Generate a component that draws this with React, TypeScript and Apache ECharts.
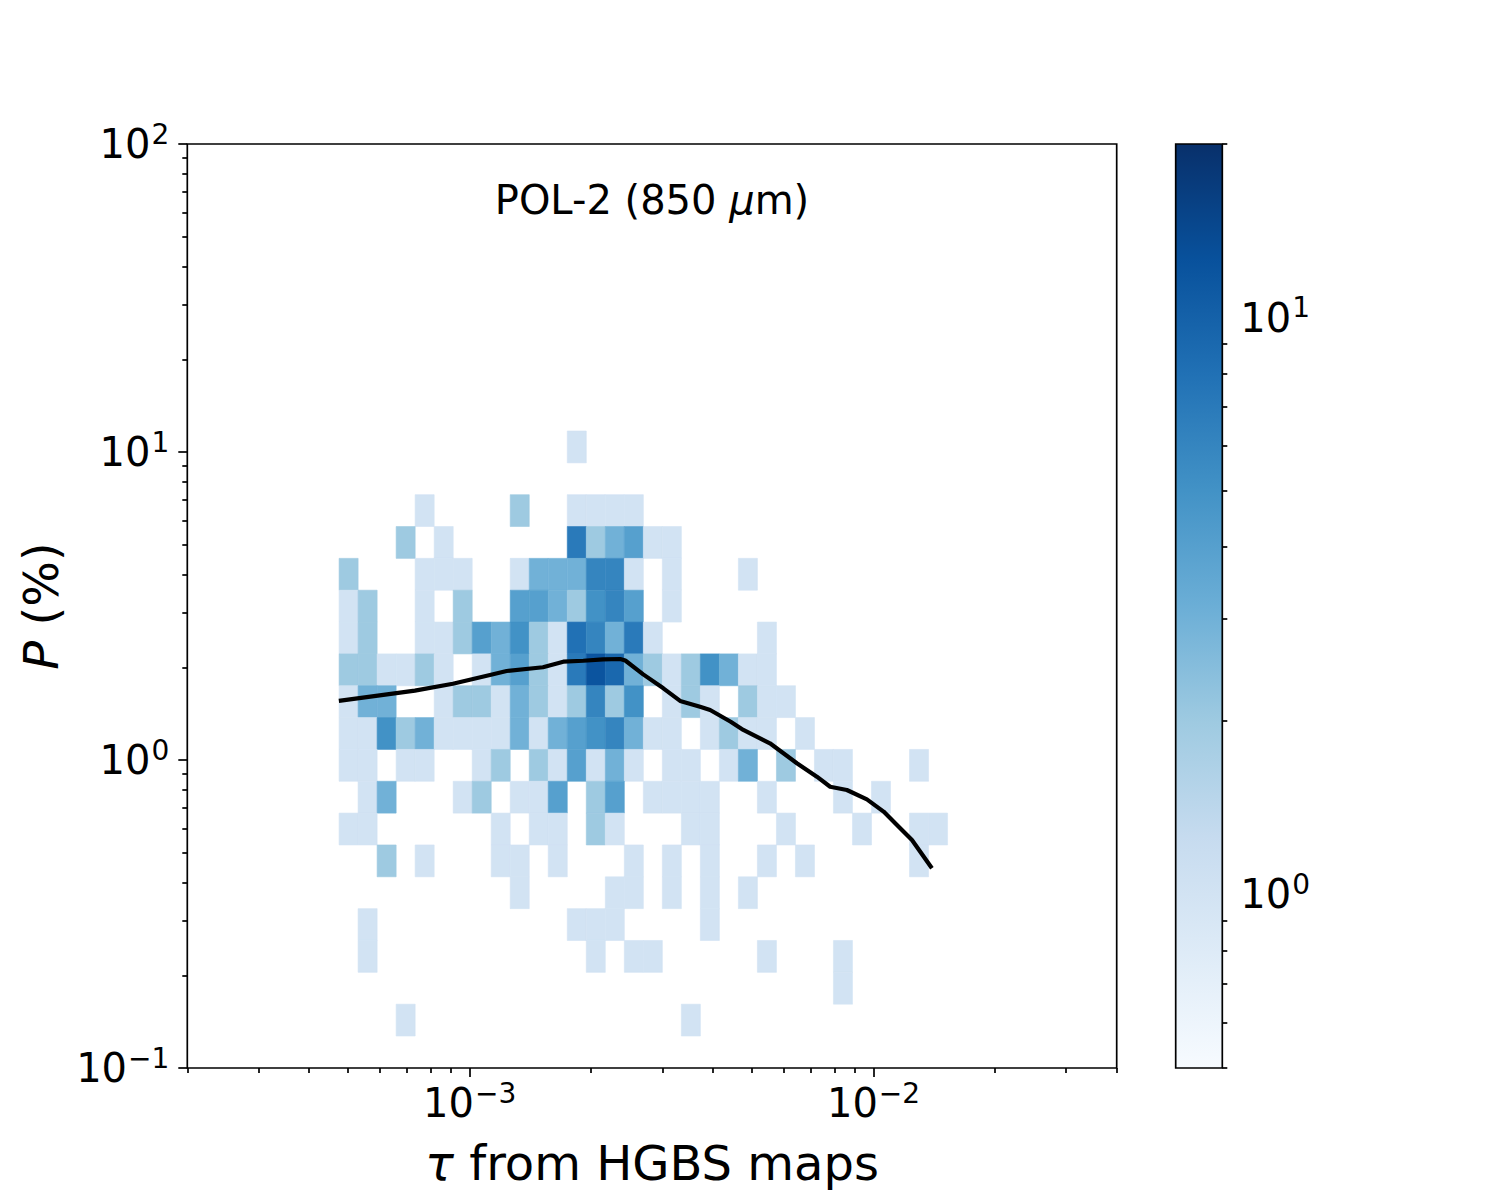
import React, { useEffect, useRef } from "react";
import * as echarts from "echarts";

const FONT = "DejaVu Sans";

// Histogram bin layout (log-spaced), in data units
const X_BIN_EDGE_MIN = 4.752e-4;
const X_BIN_EDGE_MAX = 1.525e-2;
const X_BIN_COUNT = 32;
const Y_BIN_EDGE_MIN = 0.127;
const Y_BIN_EDGE_MAX = 11.7;
const Y_BIN_COUNT = 19;

// Counts per bin: rows from the highest P bin (top) to the lowest, columns from lowest tau
const COUNTS_TOP_DOWN: number[][] = [
  [0,0,0,0,0,0,0,0,0,0,0,0,1,0,0,0,0,0,0,0,0,0,0,0,0,0,0,0,0,0,0,0],
  [0,0,0,0,0,0,0,0,0,0,0,0,0,0,0,0,0,0,0,0,0,0,0,0,0,0,0,0,0,0,0,0],
  [0,0,0,0,1,0,0,0,0,2,0,0,1,1,1,1,0,0,0,0,0,0,0,0,0,0,0,0,0,0,0,0],
  [0,0,0,2,0,1,0,0,0,0,0,0,7,2,3,4,1,1,0,0,0,0,0,0,0,0,0,0,0,0,0,0],
  [2,0,0,0,1,1,1,0,0,1,3,3,3,6,6,1,0,1,0,0,0,1,0,0,0,0,0,0,0,0,0,0],
  [1,2,0,0,1,0,2,0,0,4,4,3,2,5,6,4,0,1,0,0,0,0,0,0,0,0,0,0,0,0,0,0],
  [1,2,0,0,1,1,2,4,3,5,2,1,8,6,3,7,1,0,0,0,0,0,1,0,0,0,0,0,0,0,0,0],
  [2,2,1,1,2,1,0,1,3,4,2,1,7,12,9,3,2,1,2,5,3,1,1,0,0,0,0,0,0,0,0,0],
  [1,3,3,0,0,1,2,2,1,3,2,1,2,6,2,5,0,1,2,1,0,2,1,1,0,0,0,0,0,0,0,0],
  [1,1,5,2,3,1,1,1,1,3,1,3,4,5,6,3,1,1,0,1,2,1,1,0,1,0,0,0,0,0,0,0],
  [1,1,0,1,1,0,0,1,2,0,2,1,4,1,3,1,0,1,1,0,1,3,0,2,0,1,1,0,0,0,1,0],
  [0,1,3,0,0,0,1,2,0,1,1,4,0,2,4,0,1,1,1,1,0,0,1,0,0,0,1,0,1,0,0,0],
  [1,1,0,0,0,0,0,0,1,0,1,1,0,2,1,0,0,0,1,1,0,0,0,1,0,0,0,1,0,0,1,1],
  [0,0,2,0,1,0,0,0,1,1,0,1,0,0,0,1,0,1,0,1,0,0,1,0,1,0,0,0,0,0,1,0],
  [0,0,0,0,0,0,0,0,0,1,0,0,0,0,1,1,0,1,0,1,0,1,0,0,0,0,0,0,0,0,0,0],
  [0,1,0,0,0,0,0,0,0,0,0,0,1,1,1,0,0,0,0,1,0,0,0,0,0,0,0,0,0,0,0,0],
  [0,1,0,0,0,0,0,0,0,0,0,0,0,1,0,1,1,0,0,0,0,0,1,0,0,0,1,0,0,0,0,0],
  [0,0,0,0,0,0,0,0,0,0,0,0,0,0,0,0,0,0,0,0,0,0,0,0,0,0,1,0,0,0,0,0],
  [0,0,0,1,0,0,0,0,0,0,0,0,0,0,0,0,0,0,1,0,0,0,0,0,0,0,0,0,0,0,0,0],
];

// Running curve (black line)
const LINE_TAU = [
  4.745e-4, 7.32e-4, 9.09e-4, 1.123e-3, 1.235e-3, 1.519e-3, 1.706e-3, 1.912e-3,
  2.14e-3, 2.36e-3, 2.429e-3, 2.69e-3, 3.018e-3, 3.32e-3, 3.72e-3, 3.94e-3,
  4.43e-3, 4.76e-3, 5.54e-3, 6.46e-3, 7.24e-3, 7.81e-3, 8.59e-3, 9.63e-3,
  1.059e-2, 1.143e-2, 1.245e-2, 1.395e-2,
];
const LINE_P = [
  1.555, 1.679, 1.769, 1.888, 1.945, 2.0, 2.086, 2.1,
  2.123, 2.128, 2.104, 1.897, 1.709, 1.555, 1.49, 1.453,
  1.331, 1.252, 1.133, 0.976, 0.883, 0.819, 0.799, 0.745,
  0.68, 0.615, 0.55, 0.445,
];

// Axes
const X_MIN = 2e-4;
const X_MAX = 4e-2;
const Y_MIN = 0.1;
const Y_MAX = 100;
const X_MAJOR = [1e-3, 1e-2];
const Y_MAJOR = [0.1, 1, 10, 100];
const CBAR_MIN = 0.5;
const CBAR_MAX = 20;
const CBAR_MAJOR = [1, 10];
const MINOR_MULT = [2, 3, 4, 5, 6, 7, 8, 9];

const BLUES = ["#f7fbff", "#deebf7", "#c6dbef", "#9ecae1", "#6baed6", "#4292c6", "#2171b5", "#08519c", "#08306b"];

const TITLE = ["POL-2 (850 ", "μ", "m)"];
const X_NAME = ["τ", " from HGBS maps"];
const Y_NAME = ["P", " (%)"];

function logEdges(lo: number, hi: number, n: number): number[] {
  const a = Math.log10(lo);
  const b = Math.log10(hi);
  const out: number[] = [];
  for (let i = 0; i <= n; i++) out.push(Math.pow(10, a + ((b - a) * i) / n));
  return out;
}

function minorTicks(lo: number, hi: number): number[] {
  const out: number[] = [];
  for (let e = Math.floor(Math.log10(lo)); e <= Math.ceil(Math.log10(hi)); e++) {
    for (const m of MINOR_MULT) {
      const v = m * Math.pow(10, e);
      if (v >= lo * 0.9999 && v <= hi * 1.0001) out.push(v);
    }
  }
  return out;
}

function powLabel(v: number): string {
  const e = Math.round(Math.log10(v));
  const s = e < 0 ? "\u2212" + String(-e) : String(e);
  return "{b|10}{s|" + s + "}";
}

const tickRich = {
  b: { fontSize: 40, fontFamily: FONT, color: "#000", lineHeight: 52, verticalAlign: "middle" },
  s: { fontSize: 28, fontFamily: FONT, color: "#000", height: 32, lineHeight: 32, verticalAlign: "top", padding: [0, 0, 0, 1] },
};

export default function App() {
  const ref = useRef<HTMLDivElement>(null);

  useEffect(() => {
    document.body.style.margin = "0";
    const el = ref.current!;
    const chart = echarts.init(el, undefined, { renderer: "svg", width: 1500, height: 1200 });

    const xEdges = logEdges(X_BIN_EDGE_MIN, X_BIN_EDGE_MAX, X_BIN_COUNT);
    const yEdges = logEdges(Y_BIN_EDGE_MIN, Y_BIN_EDGE_MAX, Y_BIN_COUNT);
    const cells: number[][] = [];
    COUNTS_TOP_DOWN.forEach((row, r) => {
      const j = Y_BIN_COUNT - 1 - r;
      row.forEach((c, i) => {
        if (c > 0) cells.push([xEdges[i], xEdges[i + 1], yEdges[j], yEdges[j + 1], Math.log10(c), c]);
      });
    });

    const lineData = LINE_TAU.map((t, i) => [t, LINE_P[i]]);
    const tickLine = { color: "#000", width: 1.7 };

    const gradStops = BLUES.map((c, i) => ({ offset: 1 - i / (BLUES.length - 1), color: c })).reverse();

    const option: any = {
      animation: false,
      backgroundColor: "#ffffff",
      textStyle: { fontFamily: FONT },
      grid: [
        {
          left: 187.3, top: 144, width: 929.4, height: 924,
          show: true, borderColor: "#000", borderWidth: 1.7, backgroundColor: "transparent",
          containLabel: false, outerBoundsMode: "none",
        },
        {
          left: 1175.7, top: 144, width: 46.6, height: 924,
          show: false, containLabel: false, outerBoundsMode: "none",
        },
      ],
      xAxis: [
        {
          gridIndex: 0, type: "log", min: X_MIN, max: X_MAX, position: "bottom",
          axisLine: { show: false }, splitLine: { show: false }, minorTick: { show: false },
          axisTick: { show: true, customValues: X_MAJOR, length: 9, lineStyle: tickLine },
          axisLabel: { show: true, customValues: X_MAJOR, margin: 9, formatter: powLabel, rich: tickRich, color: "#000" },
        },
        {
          gridIndex: 0, type: "log", min: X_MIN, max: X_MAX, position: "bottom",
          axisLine: { show: false }, splitLine: { show: false }, minorTick: { show: false },
          axisTick: { show: true, customValues: minorTicks(X_MIN, X_MAX), length: 5, lineStyle: tickLine },
          axisLabel: { show: false },
        },
        { gridIndex: 1, type: "value", min: 0, max: 1, show: false },
      ],
      yAxis: [
        {
          gridIndex: 0, type: "log", min: Y_MIN, max: Y_MAX, position: "left",
          axisLine: { show: false }, splitLine: { show: false }, minorTick: { show: false },
          axisTick: { show: true, customValues: Y_MAJOR, length: 9, lineStyle: tickLine },
          axisLabel: { show: true, customValues: Y_MAJOR, margin: 18, formatter: powLabel, rich: tickRich, color: "#000" },
        },
        {
          gridIndex: 0, type: "log", min: Y_MIN, max: Y_MAX, position: "left",
          axisLine: { show: false }, splitLine: { show: false }, minorTick: { show: false },
          axisTick: { show: true, customValues: minorTicks(Y_MIN, Y_MAX), length: 5, lineStyle: tickLine },
          axisLabel: { show: false },
        },
        {
          gridIndex: 1, type: "log", min: CBAR_MIN, max: CBAR_MAX, position: "right",
          axisLine: { show: false }, splitLine: { show: false }, minorTick: { show: false },
          axisTick: { show: true, customValues: CBAR_MAJOR, length: 9, lineStyle: tickLine },
          axisLabel: { show: true, customValues: CBAR_MAJOR, margin: 18, formatter: powLabel, rich: tickRich, color: "#000" },
        },
        {
          gridIndex: 1, type: "log", min: CBAR_MIN, max: CBAR_MAX, position: "right",
          axisLine: { show: false }, splitLine: { show: false }, minorTick: { show: false },
          axisTick: { show: true, customValues: minorTicks(CBAR_MIN, CBAR_MAX), length: 5, lineStyle: tickLine },
          axisLabel: { show: false },
        },
      ],
      visualMap: [
        {
          type: "continuous", show: false, seriesIndex: 0, dimension: 4,
          min: Math.log10(CBAR_MIN), max: Math.log10(CBAR_MAX),
          inRange: { color: BLUES },
        },
      ],
      series: [
        {
          type: "custom",
          name: "counts",
          xAxisIndex: 0, yAxisIndex: 0,
          encode: { x: [0, 1], y: [2, 3] },
          data: cells,
          z: 2,
          renderItem: (params: any, api: any) => {
            const p0 = api.coord([api.value(0), api.value(3)]);
            const p1 = api.coord([api.value(1), api.value(2)]);
            const color = api.visual("color");
            return {
              type: "rect",
              shape: { x: p0[0], y: p0[1], width: p1[0] - p0[0], height: p1[1] - p0[1] },
              style: { fill: color, stroke: color, lineWidth: 0.6 },
            };
          },
        },
        {
          type: "line",
          name: "trend",
          xAxisIndex: 0, yAxisIndex: 0,
          data: lineData,
          symbol: "none",
          showSymbol: false,
          smooth: false,
          z: 3,
          lineStyle: { color: "#000", width: 4.2, join: "round", cap: "butt" },
        },
        {
          type: "custom",
          name: "colorbar",
          xAxisIndex: 2, yAxisIndex: 2,
          encode: { x: [0, 1], y: [2, 3] },
          data: [[0, 1, CBAR_MIN, CBAR_MAX]],
          z: 2,
          renderItem: (params: any, api: any) => {
            const p0 = api.coord([api.value(0), api.value(3)]);
            const p1 = api.coord([api.value(1), api.value(2)]);
            return {
              type: "rect",
              shape: { x: p0[0], y: p0[1], width: p1[0] - p0[0], height: p1[1] - p0[1] },
              style: {
                fill: new echarts.graphic.LinearGradient(0, 0, 0, 1, gradStops),
                stroke: "#000",
                lineWidth: 1.7,
              },
            };
          },
        },
      ],
      graphic: [
        {
          type: "text", x: 652, y: 200, z: 10,
          style: {
            text: "{n|" + TITLE[0] + "}{i|" + TITLE[1] + "}{n|" + TITLE[2] + "}",
            align: "center", verticalAlign: "middle", fill: "#000",
            fontSize: 40, fontFamily: FONT,
            rich: {
              n: { fontSize: 40, fontFamily: FONT, fill: "#000" },
              i: { fontSize: 40, fontFamily: FONT, fontStyle: "italic", fill: "#000" },
            },
          },
        },
        {
          type: "text", x: 652, y: 1163, z: 10,
          style: {
            text: "{i|" + X_NAME[0] + "}{n|" + X_NAME[1] + "}",
            align: "center", verticalAlign: "middle", fill: "#000",
            fontSize: 48, fontFamily: FONT,
            rich: {
              n: { fontSize: 48, fontFamily: FONT, fill: "#000" },
              i: { fontSize: 48, fontFamily: FONT, fontStyle: "italic", fill: "#000" },
            },
          },
        },
        {
          type: "text", x: 41, y: 606, rotation: Math.PI / 2, z: 10,
          style: {
            text: "{i|" + Y_NAME[0] + "}{n|" + Y_NAME[1] + "}",
            align: "center", verticalAlign: "middle", fill: "#000",
            fontSize: 48, fontFamily: FONT,
            rich: {
              n: { fontSize: 48, fontFamily: FONT, fill: "#000" },
              i: { fontSize: 48, fontFamily: FONT, fontStyle: "italic", fill: "#000" },
            },
          },
        },
      ],
    };

    chart.setOption(option);
    return () => chart.dispose();
  }, []);

  return (
    <div
      ref={ref}
      style={{ position: "absolute", left: 0, top: 0, width: 1500, height: 1200, background: "#fff" }}
    />
  );
}
